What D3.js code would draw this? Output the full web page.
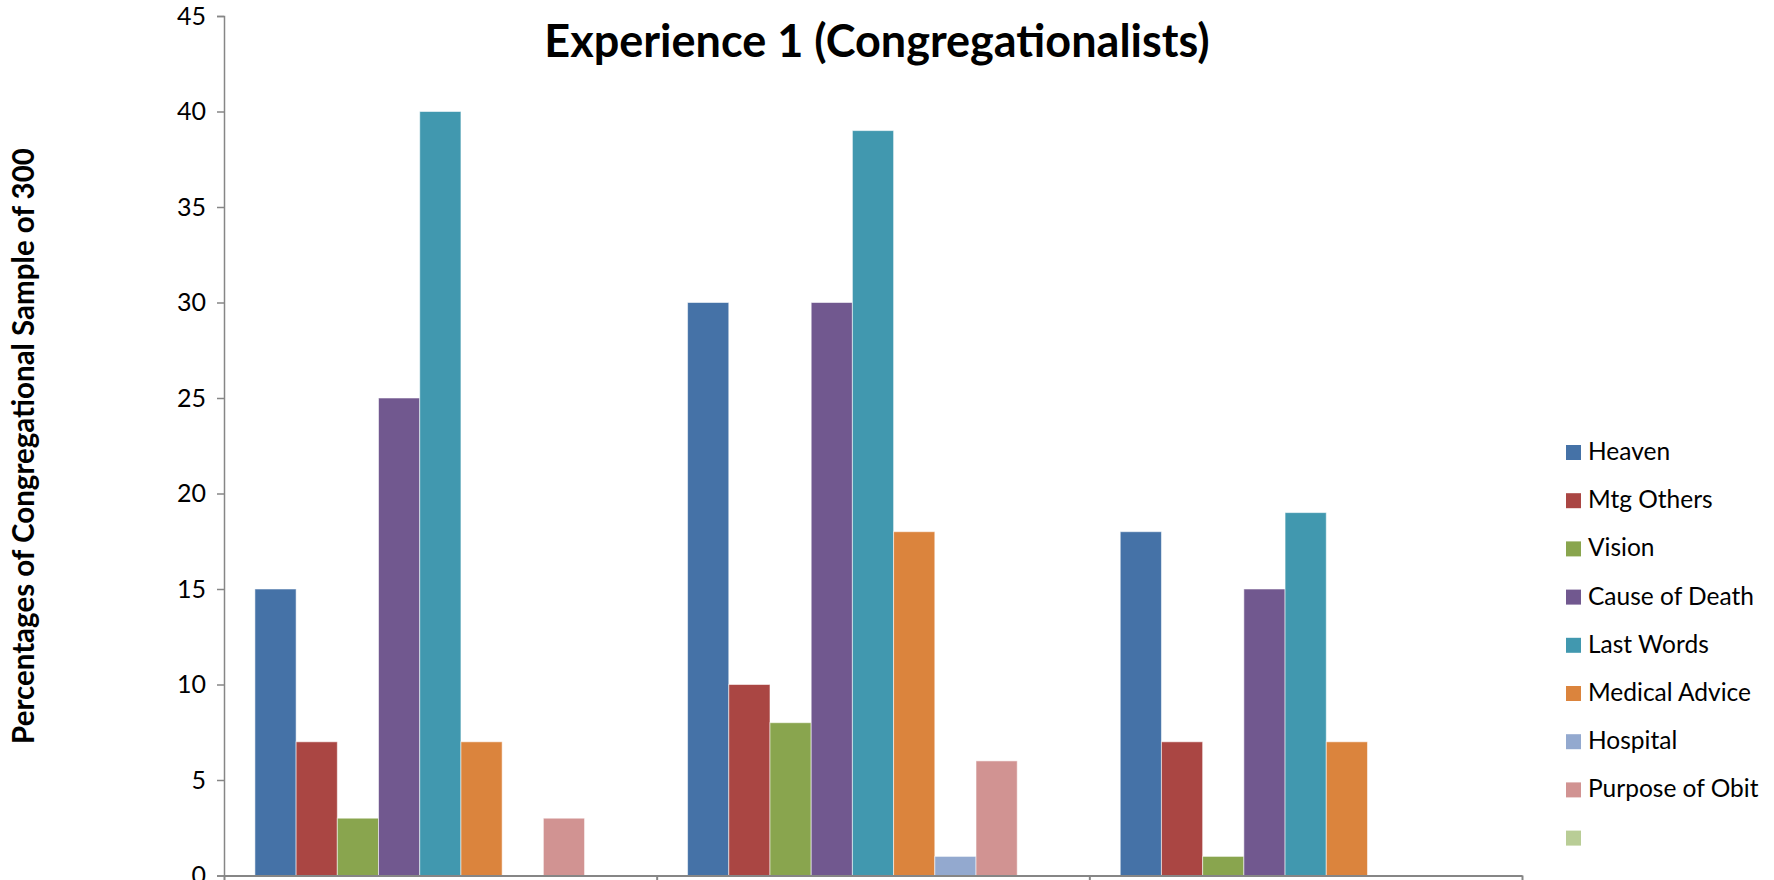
<!DOCTYPE html>
<html>
<head>
<meta charset="utf-8">
<script src="https://cdn.jsdelivr.net/npm/d3@7"></script>
<style>
  html, body { margin: 0; padding: 0; background: #fff; }
  svg { display: block; }
  text { font-family: Lato, "Noto Sans", sans-serif; fill: #000; }
</style>
</head>
<body>
<svg id="chart" width="1774" height="880"></svg>
<script>
// Groups along the x axis (their labels fall below the visible area)
const categories = ["1", "2", "3"];

// Series names, in legend order (the last series has no name)
const seriesNames = ["Heaven", "Mtg Others", "Vision", "Cause of Death", "Last Words",
                     "Medical Advice", "Hospital", "Purpose of Obit", ""];

const seriesColors = ["#4572A7", "#AA4643", "#89A54E", "#71588F", "#4198AF",
                      "#DB843D", "#93A9CF", "#D19392", "#B9CD96"];

// Percentages per series, one value per group
const heaven        = [15, 30, 18];
const mtgOthers     = [7, 10, 7];
const vision        = [3, 8, 1];
const causeOfDeath  = [25, 30, 15];
const lastWords     = [40, 39, 19];
const medicalAdvice = [7, 18, 7];
const hospital      = [0, 1, 0];
const purposeOfObit = [3, 6, 0];
const unnamed       = [0, 0, 0];

const yTicks = [0, 5, 10, 15, 20, 25, 30, 35, 40, 45];

const seriesValues = [heaven, mtgOthers, vision, causeOfDeath, lastWords,
                      medicalAdvice, hospital, purposeOfObit, unnamed];

const svg = d3.select("#chart");
const plot = { left: 224, right: 1522, top: 16, bottom: 875.5 };

// Group scale; bars take 9 of 10.5 slots (gap width 150%)
const x0 = d3.scaleBand().domain(categories).range([plot.left, plot.right]).padding(0);
const slot = x0.bandwidth() / (seriesNames.length + 1.5);
const x1 = d3.scaleBand().domain(d3.range(seriesNames.length))
  .range([0.75 * slot, 0.75 * slot + seriesNames.length * slot]).padding(0);
const y = d3.scaleLinear().domain([0, 45]).range([plot.bottom, plot.top]);

// Bars
const groups = svg.append("g").selectAll("g")
  .data(categories)
  .join("g")
  .attr("transform", d => `translate(${x0(d)},0)`);

groups.selectAll("rect")
  .data((c, ci) => seriesValues.map((vals, si) => ({ si, v: vals[ci] })))
  .join("rect")
  .filter(d => d.v > 0)
  .attr("x", d => x1(d.si))
  .attr("width", x1.bandwidth())
  .attr("y", d => y(d.v))
  .attr("height", d => y(0) - y(d.v))
  .attr("fill", d => seriesColors[d.si])
  .attr("stroke", "#ffffff")
  .attr("stroke-opacity", 0.55)
  .attr("stroke-width", 1);

// Y axis
const yAxis = svg.append("g")
  .attr("transform", `translate(${plot.left},0)`)
  .call(d3.axisLeft(y).tickValues(yTicks).tickSize(7).tickSizeOuter(7).tickPadding(11));
yAxis.selectAll("path, line").attr("stroke", "#868686").attr("stroke-width", 1.5);
yAxis.selectAll("text").style("font-size", "25px").style("font-family", "Lato, sans-serif").attr("fill", "#000");

// X axis with tick marks on the group boundaries
const xb = d3.scaleLinear().domain([0, categories.length]).range([plot.left, plot.right]);
const xAxis = svg.append("g")
  .attr("transform", `translate(0,${plot.bottom})`)
  .call(d3.axisBottom(xb).tickValues(d3.range(categories.length + 1)).tickFormat("").tickSize(7).tickSizeOuter(0));
xAxis.selectAll("path, line").attr("stroke", "#868686").attr("stroke-width", 2);

// Title
svg.append("text")
  .attr("x", 877).attr("y", 57)
  .attr("text-anchor", "middle")
  .style("font-size", "45px").style("font-weight", "bold")
  .text("Experience 1 (Congregationalists)");

// Y axis title
svg.append("text")
  .attr("transform", "translate(34,446) rotate(-90)")
  .attr("text-anchor", "middle")
  .style("font-size", "29.5px").style("font-weight", "bold")
  .text("Percentages of Congregational Sample of 300");

// Legend
const legend = svg.append("g").attr("transform", "translate(1566,452)");
const items = legend.selectAll("g")
  .data(seriesNames)
  .join("g")
  .attr("transform", (d, i) => `translate(0,${i * 48.2})`);
items.append("rect")
  .attr("x", 0).attr("y", -7).attr("width", 15).attr("height", 15)
  .attr("fill", (d, i) => seriesColors[i]);
items.append("text")
  .attr("x", 22).attr("y", 8)
  .style("font-size", "24.5px")
  .text(d => d);
</script>
</body>
</html>
